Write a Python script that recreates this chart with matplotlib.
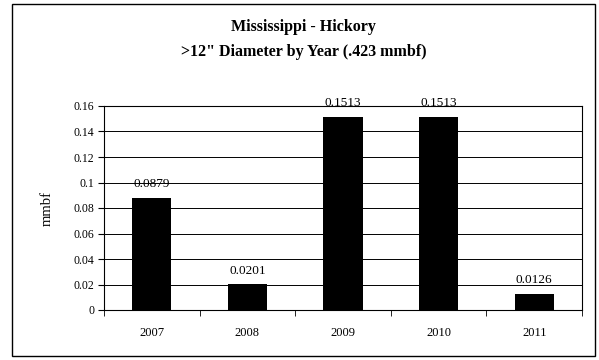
import matplotlib
matplotlib.use("Agg")
import matplotlib.pyplot as plt
from matplotlib.patches import Rectangle

years = ["2007", "2008", "2009", "2010", "2011"]
values = [0.0879, 0.0201, 0.1513, 0.1513, 0.0126]
labels = ["0.0879", "0.0201", "0.1513", "0.1513", "0.0126"]
yticks = [0, 0.02, 0.04, 0.06, 0.08, 0.1, 0.12, 0.14, 0.16]
ytick_labels = ["0", "0.02", "0.04", "0.06", "0.08", "0.1", "0.12", "0.14", "0.16"]

plt.rcParams["font.family"] = ["Liberation Serif", "DejaVu Serif"]

fig = plt.figure(figsize=(5.99, 3.6), dpi=100)
fig.patches.append(Rectangle((12 / 599, 4 / 360), 583 / 599, 352 / 360,
                             transform=fig.transFigure, fill=False,
                             edgecolor="black", linewidth=1.0))

ax = fig.add_axes([104 / 599, 1 - 310 / 360, 478 / 599, 204 / 360])
x = list(range(len(years)))
ax.bar(x, values, width=0.41, color="black", zorder=3)
for xi, v, lab in zip(x, values, labels):
    ax.text(xi, v + 0.006, lab, ha="center", va="bottom", fontsize=9.5, zorder=4)

ax.set_xlim(-0.5, len(years) - 0.5)
ax.set_ylim(0, 0.16)
ax.set_yticks(yticks)
ax.set_yticklabels(ytick_labels, fontsize=8.5)
ax.set_xticks(x)
ax.set_xticklabels(years, fontsize=9)
ax.tick_params(axis="x", length=0, pad=12)
ax.set_xticks([i - 0.5 for i in range(len(years) + 1)], minor=True)
ax.tick_params(axis="x", which="minor", length=4, direction="out")
ax.tick_params(axis="y", length=4, direction="out", pad=3)
ax.grid(True, axis="y", color="black", linewidth=0.7, zorder=0)
for s in ax.spines.values():
    s.set_linewidth(0.8)
ax.set_ylabel("mmbf", fontsize=10.5, labelpad=14)

fig.text(0.5 + 4 / 599, 1 - 27 / 360, "Mississippi - Hickory", ha="center", va="center",
         fontsize=11.5, fontweight="bold")
fig.text(0.5 + 4 / 599, 1 - 52 / 360, ">12\" Diameter by Year (.423 mmbf)", ha="center",
         va="center", fontsize=11.5, fontweight="bold")

fig.savefig("out.png", dpi=100)
